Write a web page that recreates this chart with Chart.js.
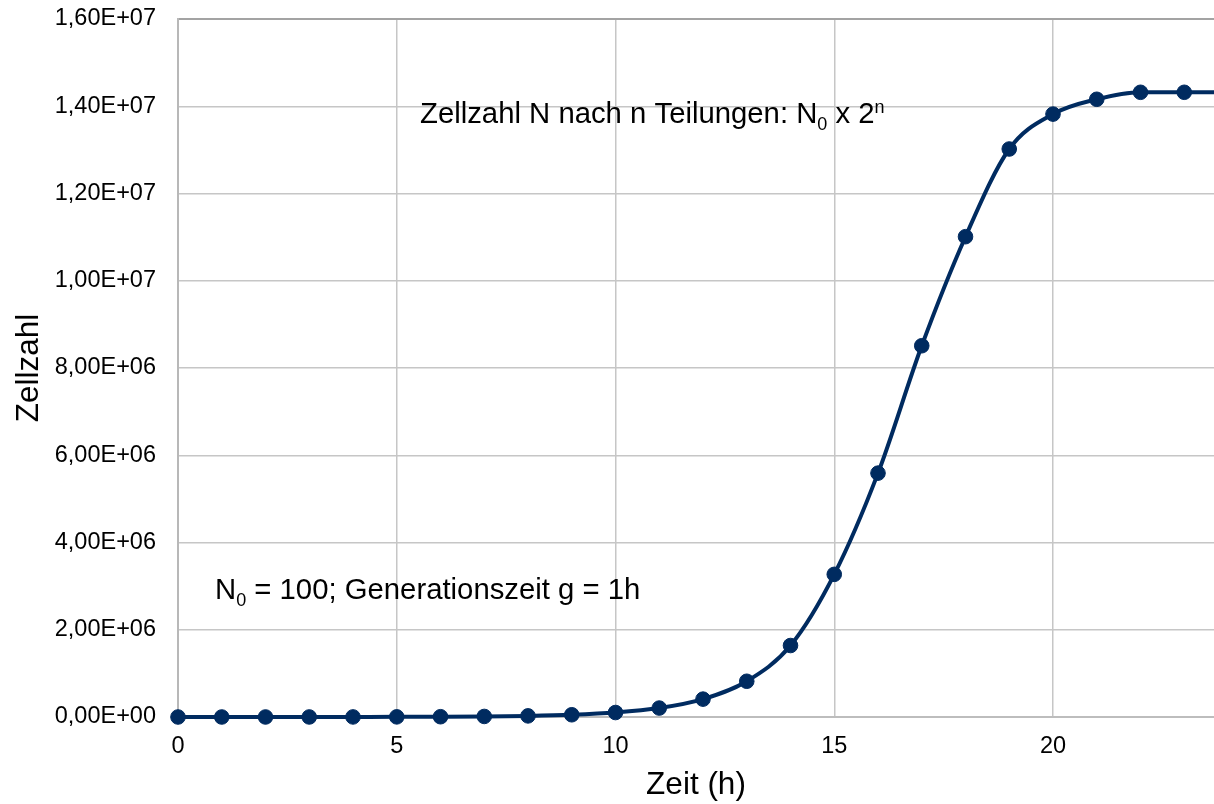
<!DOCTYPE html>
<html>
<head>
<meta charset="utf-8">
<script src="https://cdn.jsdelivr.net/npm/chart.js@4.4.1/dist/chart.umd.min.js"></script>
<style>
  html, body { margin: 0; padding: 0; background: #ffffff; }
  #wrap { width: 1214px; height: 804px; position: relative; }
</style>
</head>
<body>
<div id="wrap"><canvas id="c" width="1214" height="804"></canvas></div>
<script>
// ---- data ----
const hours = [0, 1, 2, 3, 4, 5, 6, 7, 8, 9, 10, 11, 12, 13, 14, 15, 16, 17, 18, 19, 20, 21, 22, 23, 24];
const cells = [100, 200, 400, 800, 1600, 3200, 6400, 12800, 25600, 51200, 102400, 204800, 409600, 819200, 1638400,
               3270000, 5590000, 8510000, 11010000, 13020000, 13820000, 14160000, 14320000, 14320000, 14320000];
const xTickValues = [0, 5, 10, 15, 20];
const yTickValues = [0, 2e6, 4e6, 6e6, 8e6, 1e7, 1.2e7, 1.4e7, 1.6e7];
const xTitle = 'Zeit (h)';
const yTitle = 'Zellzahl';

const lineColor = '#002b60';
const FONT = "'Liberation Sans', Arial, sans-serif";

function sci(v) {
  if (v === 0) return '0,00E+00';
  const e = Math.floor(Math.log10(Math.abs(v)) + 1e-9);
  const m = v / Math.pow(10, e);
  return m.toFixed(2).replace('.', ',') + 'E' + (e < 0 ? '-' : '+') + String(Math.abs(e)).padStart(2, '0');
}

// annotation text plugin (rich text with sub/superscripts)
const annotations = {
  id: 'annotations',
  beforeDatasetsDraw(chart) {
    const ctx = chart.ctx;
    ctx.save();
    ctx.fillStyle = '#000000';
    ctx.textBaseline = 'alphabetic';
    ctx.textAlign = 'left';
    function run(parts, x, y) {
      for (const p of parts) {
        ctx.font = p.size + 'px ' + FONT;
        ctx.fillText(p.t, x, y + (p.dy || 0));
        x += ctx.measureText(p.t).width;
      }
    }
    const big = 29.3, small = 18;
    run([
      { t: 'Zellzahl N nach n Teilungen: N', size: big },
      { t: '0', size: small, dy: 7 },
      { t: ' x 2', size: big },
      { t: 'n', size: small, dy: -10 }
    ], 420, 123);
    run([
      { t: 'N', size: big },
      { t: '0', size: small, dy: 7 },
      { t: ' = 100; Generationszeit g = 1h', size: big }
    ], 215, 599);
    ctx.restore();
  }
};

new Chart(document.getElementById('c'), {
  type: 'line',
  data: {
    datasets: [{
      data: hours.map((h, i) => ({ x: h, y: cells[i] })),
      borderColor: lineColor,
      backgroundColor: lineColor,
      borderWidth: 4,
      pointRadius: 7.3,
      pointBorderWidth: 1,
      pointBackgroundColor: lineColor,
      pointBorderColor: lineColor,
      cubicInterpolationMode: 'monotone',
      clip: false,
      fill: false
    }]
  },
  options: {
    responsive: false,
    animation: false,
    layout: { autoPadding: false, padding: { top: 19, right: 0, bottom: 0, left: 0 } },
    plugins: { legend: { display: false }, tooltip: { enabled: false } },
    scales: {
      x: {
        type: 'linear',
        min: 0,
        max: 23.68,
        afterBuildTicks: (s) => { s.ticks = xTickValues.map(v => ({ value: v })); },
        afterFit: (s) => { s.height = 87; s.paddingLeft = 0; s.paddingRight = 0; },
        grid: { color: '#c6c6c6', lineWidth: 1.5, drawTicks: false },
        border: { color: '#bdbdbd', width: 2 },
        ticks: {
          padding: 15,
          color: '#000000',
          font: { family: FONT, size: 23.5 },
          maxRotation: 0,
          callback: (v) => String(v)
        },
        title: {
          display: true,
          text: xTitle,
          color: '#000000',
          font: { family: FONT, size: 31.5 },
          padding: { top: 0, bottom: 0 }
        }
      },
      y: {
        type: 'linear',
        min: 0,
        max: 1.6e7,
        afterBuildTicks: (s) => { s.ticks = yTickValues.map(v => ({ value: v })); },
        afterFit: (s) => { s.width = 178; s.paddingTop = 0; s.paddingBottom = 0; },
        grid: {
          color: (c) => (c.tick && c.tick.value === 1.6e7) ? '#a3a3a3' : '#c6c6c6',
          lineWidth: (c) => (c.tick && c.tick.value === 1.6e7) ? 2 : 1.5,
          drawTicks: false
        },
        border: { color: '#b8b8b8', width: 2 },
        ticks: {
          padding: 22,
          color: '#000000',
          font: { family: FONT, size: 23.5 },
          callback: (v) => sci(v)
        },
        title: {
          display: true,
          text: yTitle,
          color: '#000000',
          font: { family: FONT, size: 31.5 },
          padding: { top: 10, bottom: 0 }
        }
      }
    }
  },
  plugins: [annotations]
});
</script>
</body>
</html>
